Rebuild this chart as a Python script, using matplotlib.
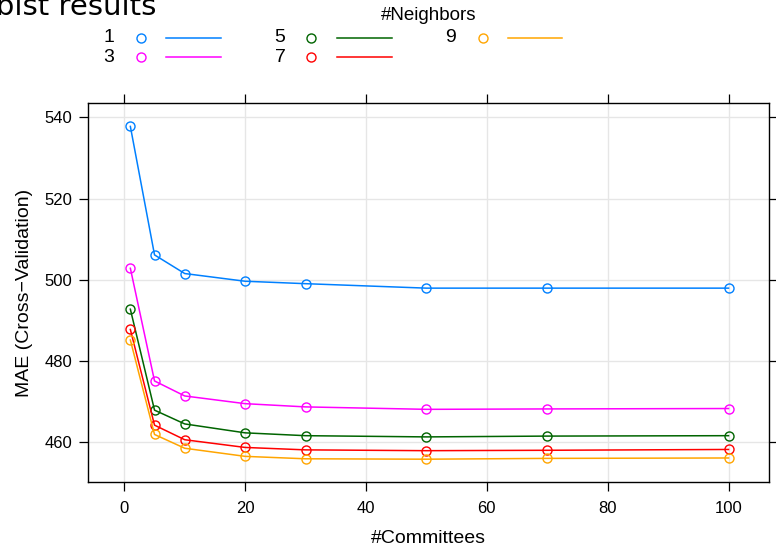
import numpy as np
import matplotlib.pyplot as plt
from matplotlib.lines import Line2D

plt.rcParams['font.family'] = ['Liberation Sans', 'DejaVu Sans']

committees = [1, 5, 10, 20, 30, 50, 70, 100]
neighbors = ['1', '3', '5', '7', '9']
mae_k1 = [537.8, 506.1, 501.5, 499.6, 499.0, 497.9, 497.9, 497.9]
mae_k3 = [502.8, 475.0, 471.3, 469.4, 468.6, 468.0, 468.1, 468.2]
mae_k5 = [492.7, 467.8, 464.4, 462.2, 461.5, 461.2, 461.4, 461.5]
mae_k7 = [487.7, 464.1, 460.5, 458.6, 458.0, 457.8, 457.9, 458.1]
mae_k9 = [485.1, 461.8, 458.4, 456.4, 455.8, 455.7, 455.9, 456.0]
x_ticks = [0, 20, 40, 60, 80, 100]
y_ticks = [460, 480, 500, 520, 540]

series = [mae_k1, mae_k3, mae_k5, mae_k7, mae_k9]
colors = ['#0080ff', '#ff00ff', 'darkgreen', '#ff0000', 'orange']

W, H = 776, 547
fig = plt.figure(figsize=(W / 100, H / 100), dpi=100)
ax = fig.add_axes([88.3 / W, (H - 482.3) / H, (769 - 88.3) / W, (482.3 - 103.3) / H])

# grid first so lines sit on top
ax.set_axisbelow(True)
ax.grid(True, color='#e6e6e6', lw=1)

for vals, c in zip(series, colors):
    ax.plot(committees, vals, color=c, lw=1.1, marker='o', ms=6.5,
            mfc='none', mec=c, mew=1)

ax.set_xlim(-5.96, 106.7)
ax.set_ylim(450, 543.5)
ax.set_xticks(x_ticks)
ax.set_yticks(y_ticks)
ax.tick_params(direction='out', top=True, right=True, labeltop=False,
               labelright=False, length=6.5, width=0.9, labelsize=12)
ax.tick_params(axis='x', pad=7)
ax.tick_params(axis='y', pad=5)
for s in ax.spines.values():
    s.set_linewidth(1)

ax.set_xlabel('#Committees', fontsize=14, labelpad=10)
ax.set_ylabel('MAE (Cross\u2212Validation)', fontsize=14, labelpad=8)

# title, partly cut off at the left edge like the reference
fig.text(-43 / W, 1 - 15 / H, 'Cubist results', fontsize=21,
         family='DejaVu Sans', va='baseline', ha='left')

# lattice style key: label, point, line
fig.text(429 / W, 1 - 15 / H, '#Neighbors', fontsize=13.5, ha='center', va='center')
key_cols = [(109, 140.7, 166, 220.7), (280, 310.7, 337, 391.7), (450.7, 482.7, 508, 562)]
key_rows = [38, 57]
for i, (lab, c) in enumerate(zip(neighbors, colors)):
    tx, px, lx0, lx1 = key_cols[i // 2]
    py = key_rows[i % 2]
    yf = 1 - py / H
    fig.text(tx / W, yf, lab, fontsize=14, ha='center', va='center')
    fig.add_artist(Line2D([px / W], [yf], marker='o', ms=6.5, mfc='none',
                          mec=c, mew=1, transform=fig.transFigure))
    fig.add_artist(Line2D([lx0 / W, lx1 / W], [yf, yf], color=c, lw=1.1,
                          transform=fig.transFigure))

fig.savefig('out.png', dpi=100)
